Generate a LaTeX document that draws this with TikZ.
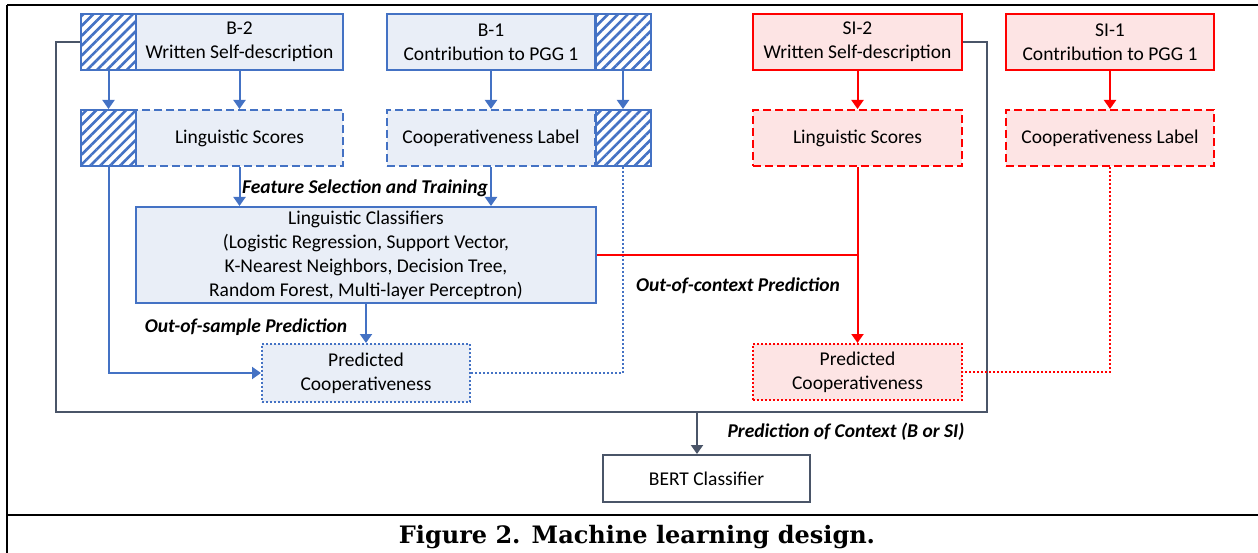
\documentclass[tikz,border=0pt]{standalone}
\usepackage{fontspec}
\setmainfont{Carlito}
\newfontfamily\capfont{DejaVu Serif}
\usetikzlibrary{arrows.meta,patterns.meta}
\definecolor{bline}{HTML}{4472C4}
\definecolor{bfill}{HTML}{E9EEF7}
\definecolor{rline}{HTML}{FF0000}
\definecolor{rfill}{HTML}{FDE4E4}
\definecolor{gline}{HTML}{4A5568}
\tikzset{
  box/.style={line width=2pt, align=center, inner sep=0pt, minimum height=56pt,
    font=\fontsize{19.5}{24}\selectfont},
  bluebox/.style={box, draw=bline, fill=bfill},
  redbox/.style={box, draw=rline, fill=rfill},
  dashbox/.style={dash pattern=on 8pt off 4pt},
  dotbox/.style={dash pattern=on 2pt off 2pt},
  hatchbox/.style={box, draw=bline, minimum width=55pt,
    pattern={Lines[angle=45,distance=7pt,line width=2.6pt]}, pattern color=bline},
  lbl/.style={font=\fontsize{19.5}{22}\selectfont\bfseries\itshape},
  barrow/.style={draw=bline, line width=2pt, -{Triangle[width=12pt,length=9pt]}},
  rarrow/.style={draw=rline, line width=2pt, -{Triangle[width=12pt,length=9pt]}},
}
\begin{document}
\begin{tikzpicture}[x=1pt,y=-1pt]
\useasboundingbox (0,0) rectangle (1258,553);
% table frame
\draw[line width=1.2pt] (7,5) -- (1258,5);
\draw[line width=1.2pt] (7,5) -- (7,553);
\draw[line width=1.4pt] (7,515) -- (1258,515);
\node[font=\capfont\fontsize{24}{28}\selectfont\bfseries] (cap) at (637,537) {Figure 2. Machine learning design.};
% baseline inputs
\node[bluebox, minimum width=207pt] (b2) at (239.5,42) {B-2\\Written Self-description};
\node[hatchbox] (b2h) at (108.5,42) {};
\node[bluebox, dashbox, minimum width=207pt] (b2ls) at (239.5,138) {Linguistic Scores};
\node[hatchbox] (b2lsh) at (108.5,138) {};
\node[bluebox, minimum width=208pt] (b1) at (491,42) {B-1\\Contribution to PGG 1};
\node[hatchbox] (b1h) at (623,42) {};
\node[bluebox, dashbox, minimum width=208pt] (b1cl) at (491,138) {Cooperativeness Label};
\node[hatchbox] (b1clh) at (623,138) {};
% SI inputs
\node[redbox, minimum width=209pt] (si2) at (857.5,42) {SI-2\\Written Self-description};
\node[redbox, dashbox, minimum width=209pt] (si2ls) at (857.5,138) {Linguistic Scores};
\node[redbox, minimum width=208pt] (si1) at (1110,42) {SI-1\\Contribution to PGG 1};
\node[redbox, dashbox, minimum width=208pt] (si1cl) at (1110,138) {Cooperativeness Label};
% classifiers and predictions
\node[bluebox, minimum width=460pt, minimum height=96pt] (lc) at (366,255)
  {Linguistic Classifiers\\(Logistic Regression, Support Vector,\\K-Nearest Neighbors, Decision Tree,\\Random Forest, Multi-layer Perceptron)};
\node[bluebox, dotbox, minimum width=208pt, minimum height=58pt] (bpc) at (366,373) {Predicted\\Cooperativeness};
\node[redbox, dotbox, minimum width=209pt] (rpc) at (857.5,372) {Predicted\\Cooperativeness};
\node[box, draw=gline, fill=white, minimum width=207pt, minimum height=47pt] (bert) at (706.5,478.5) {BERT Classifier};
% context frame
\coordinate (fbl) at (56,412);
\coordinate (fbr) at (987,412);
\coordinate (ctx) at (697,412);
\draw[gline, line width=2pt] (b2h.west) -| (fbl) -- (fbr) |- (si2.east);
\draw[gline, line width=2pt, -{Triangle[width=12pt,length=9pt]}] (ctx) -- (ctx |- bert.north);
% blue arrows
\draw[barrow] (b2h.south) -- (b2lsh.north);
\draw[barrow] (b2.south) -- (b2ls.north);
\draw[barrow] (b1.south) -- (b1cl.north);
\draw[barrow] (b1h.south) -- (b1clh.north);
\draw[barrow] (b2ls.south) -- (b2ls.south |- lc.north);
\draw[barrow] (b1cl.south) -- (b1cl.south |- lc.north);
\draw[barrow] (lc.south) -- (bpc.north);
\draw[barrow] (b2lsh.south) |- (bpc.west);
\draw[bline, line width=2pt, dotbox] (b1clh.south) |- (bpc.east);
% red arrows
\draw[rarrow] (si2.south) -- (si2ls.north);
\draw[rarrow] (si1.south) -- (si1cl.north);
\draw[rline, line width=2pt] (lc.east) -- (lc.east -| si2ls.south);
\draw[rarrow] (si2ls.south) -- (rpc.north);
\draw[rline, line width=2pt, dotbox] (si1cl.south) |- (rpc.east);
% labels
\node[lbl] (fst) at (365,188) {Feature Selection and Training};
\node[lbl] (oos) at (246,327) {Out-of-sample Prediction};
\node[lbl] (ooc) at (738,286) {Out-of-context Prediction};
\node[lbl] (poc) at (846,432) {Prediction of Context (B or SI)};
\end{tikzpicture}
\end{document}
